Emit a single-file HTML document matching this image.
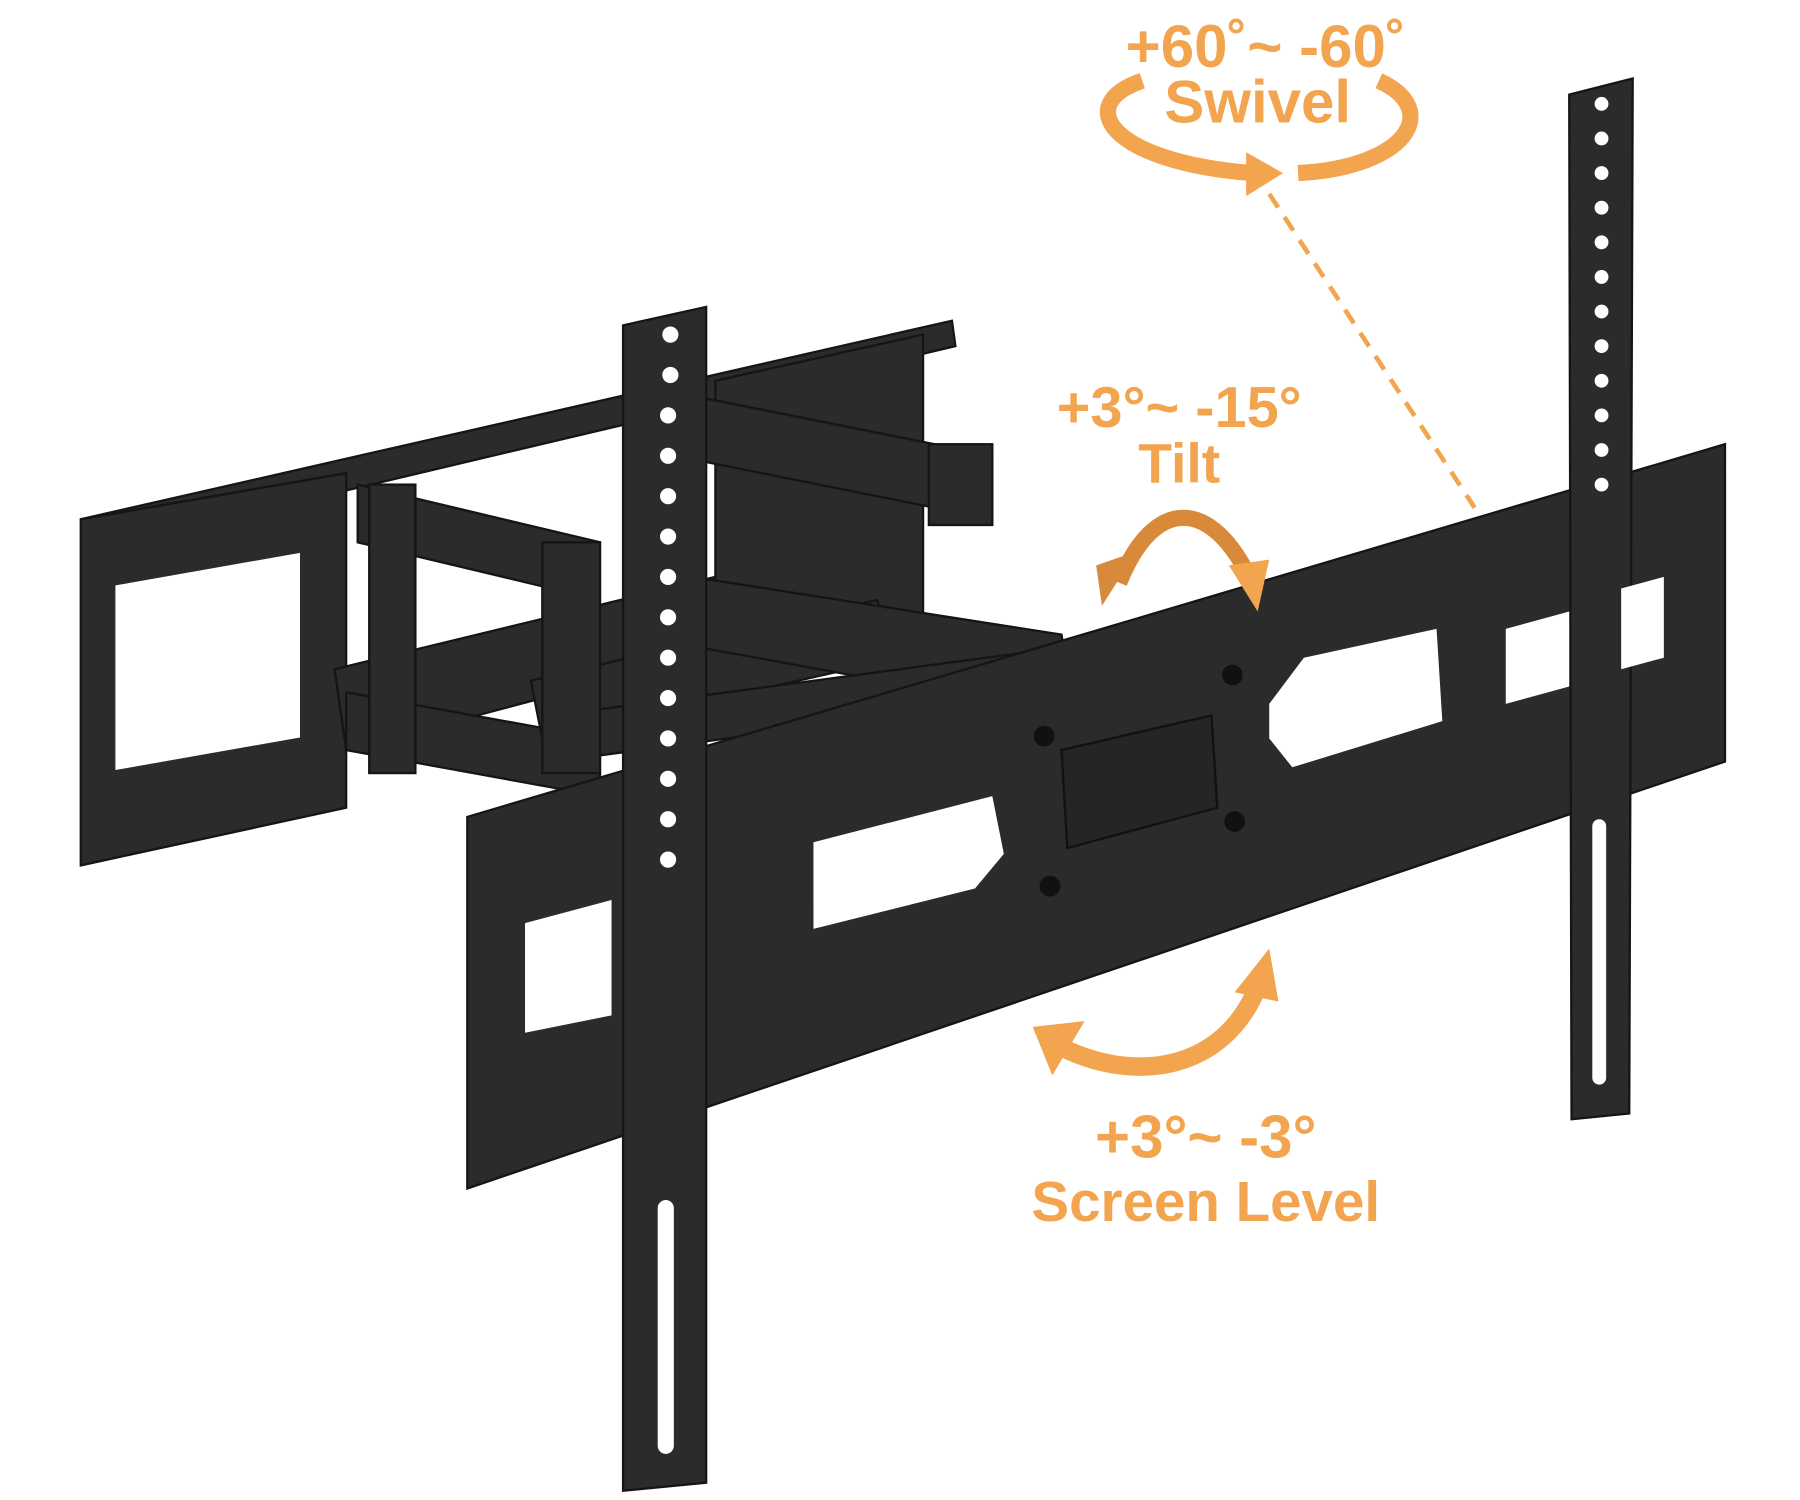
<!DOCTYPE html>
<html><head><meta charset="utf-8"><style>
html,body{margin:0;padding:0;background:#fff;width:1800px;height:1500px;overflow:hidden}
svg{display:block}
text{font-family:"Liberation Sans",sans-serif;font-weight:bold;fill:#F2A44E}
</style></head><body>
<svg width="1800" height="1500" viewBox="0 0 1560 1300" preserveAspectRatio="none">
<g fill="#2b2b2b" stroke="#151515" stroke-width="2">
<polygon points="70,450 300,410 300,700 70,750"/>
<polygon points="70,450 825,278 828,300 300,425 300,410"/>
<polygon points="290,580 620,500 640,560 300,650"/>
<polygon points="620,330 800,290 800,560 620,600"/>
<polygon points="310,420 520,470 520,520 310,470"/>
<polygon points="610,345 860,395 860,450 610,400"/>
<polygon points="300,600 520,640 520,690 300,650"/>
<polygon points="460,590 760,520 780,570 470,640"/>
<polygon points="600,500 920,550 930,620 600,560"/>
<polygon points="480,620 930,560 930,600 480,660"/>
<rect x="470" y="470" width="50" height="200"/>
<rect x="805" y="385" width="55" height="70"/>
<rect x="320" y="420" width="40" height="250"/>
<polygon points="405,708 1495,385 1495,660 405,1030"/>
<polygon points="540,282 612,266 612,1285 540,1292"/>
<polygon points="1360,82 1415,68 1412,965 1362,970"/>
</g>
<g fill="#fff">
<rect x="100" y="490" width="160" height="160" transform="skewY(-10) translate(0,35)"/>
<polygon points="705,730 860,690 870,740 845,770 705,805"/>
<polygon points="455,800 530,780 530,880 455,895"/>
<polygon points="1100,610 1130,570 1245,545 1250,625 1120,665 1100,640"/>
<polygon points="1305,545 1360,530 1360,595 1305,610"/>
<polygon points="1405,510 1442,500 1442,570 1405,580"/>
<circle cx="581" cy="290" r="7"/><circle cx="581" cy="325" r="7"/><circle cx="579" cy="360" r="7"/>
<circle cx="579" cy="395" r="7"/><circle cx="579" cy="430" r="7"/><circle cx="579" cy="465" r="7"/>
<circle cx="579" cy="500" r="7"/><circle cx="579" cy="535" r="7"/><circle cx="579" cy="570" r="7"/>
<circle cx="579" cy="605" r="7"/><circle cx="579" cy="640" r="7"/><circle cx="579" cy="675" r="7"/>
<circle cx="579" cy="710" r="7"/><circle cx="579" cy="745" r="7"/>
<rect x="570" y="1040" width="14" height="220" rx="7"/>
<rect x="1380" y="710" width="12" height="230" rx="6"/>
<circle cx="1388" cy="90" r="6"/><circle cx="1388" cy="120" r="6"/><circle cx="1388" cy="150" r="6"/>
<circle cx="1388" cy="180" r="6"/><circle cx="1388" cy="210" r="6"/><circle cx="1388" cy="240" r="6"/>
<circle cx="1388" cy="270" r="6"/><circle cx="1388" cy="300" r="6"/><circle cx="1388" cy="330" r="6"/>
<circle cx="1388" cy="360" r="6"/><circle cx="1388" cy="390" r="6"/><circle cx="1388" cy="420" r="6"/>
</g>
<polygon points="920,650 1050,620 1055,700 925,735" fill="#252525" stroke="#111" stroke-width="2"/>
<g fill="#111"><circle cx="905" cy="638" r="9"/><circle cx="1068" cy="585" r="9"/><circle cx="910" cy="768" r="9"/><circle cx="1070" cy="712" r="9"/></g>
<line x1="1100" y1="168" x2="1278" y2="440" stroke="#F2A44E" stroke-width="4" stroke-dasharray="14,10"/>
<path d="M1085,150 C960,140 930,90 990,70" fill="none" stroke="#F2A44E" stroke-width="14"/>
<polygon points="1080,132 1112,150 1080,170" fill="#F2A44E"/>
<path d="M1125,150 C1220,145 1250,95 1195,70" fill="none" stroke="#F2A44E" stroke-width="14"/>
<path d="M970,505 C1000,430 1050,430 1085,505" fill="none" stroke="#D8893A" stroke-width="14"/>
<polygon points="950,490 985,478 955,525" fill="#D8893A"/>
<polygon points="1065,490 1100,485 1090,530" fill="#F2A44E"/>
<path d="M915,905 C980,940 1060,930 1090,855" fill="none" stroke="#F2A44E" stroke-width="16"/>
<polygon points="895,890 940,885 912,932" fill="#F2A44E"/>
<polygon points="1070,860 1100,822 1108,868" fill="#F2A44E"/>
<text x="1097" y="58" font-size="52" text-anchor="middle">+60˚~ -60˚</text>
<text x="1090" y="106" font-size="52" text-anchor="middle">Swivel</text>
<text x="1022" y="370" font-size="50" text-anchor="middle">+3°~ -15°</text>
<text x="1022" y="418" font-size="48" text-anchor="middle">Tilt</text>
<text x="1045" y="1003" font-size="52" text-anchor="middle">+3°~ -3°</text>
<text x="1045" y="1058" font-size="49" text-anchor="middle">Screen Level</text>
</svg>
</body></html>
